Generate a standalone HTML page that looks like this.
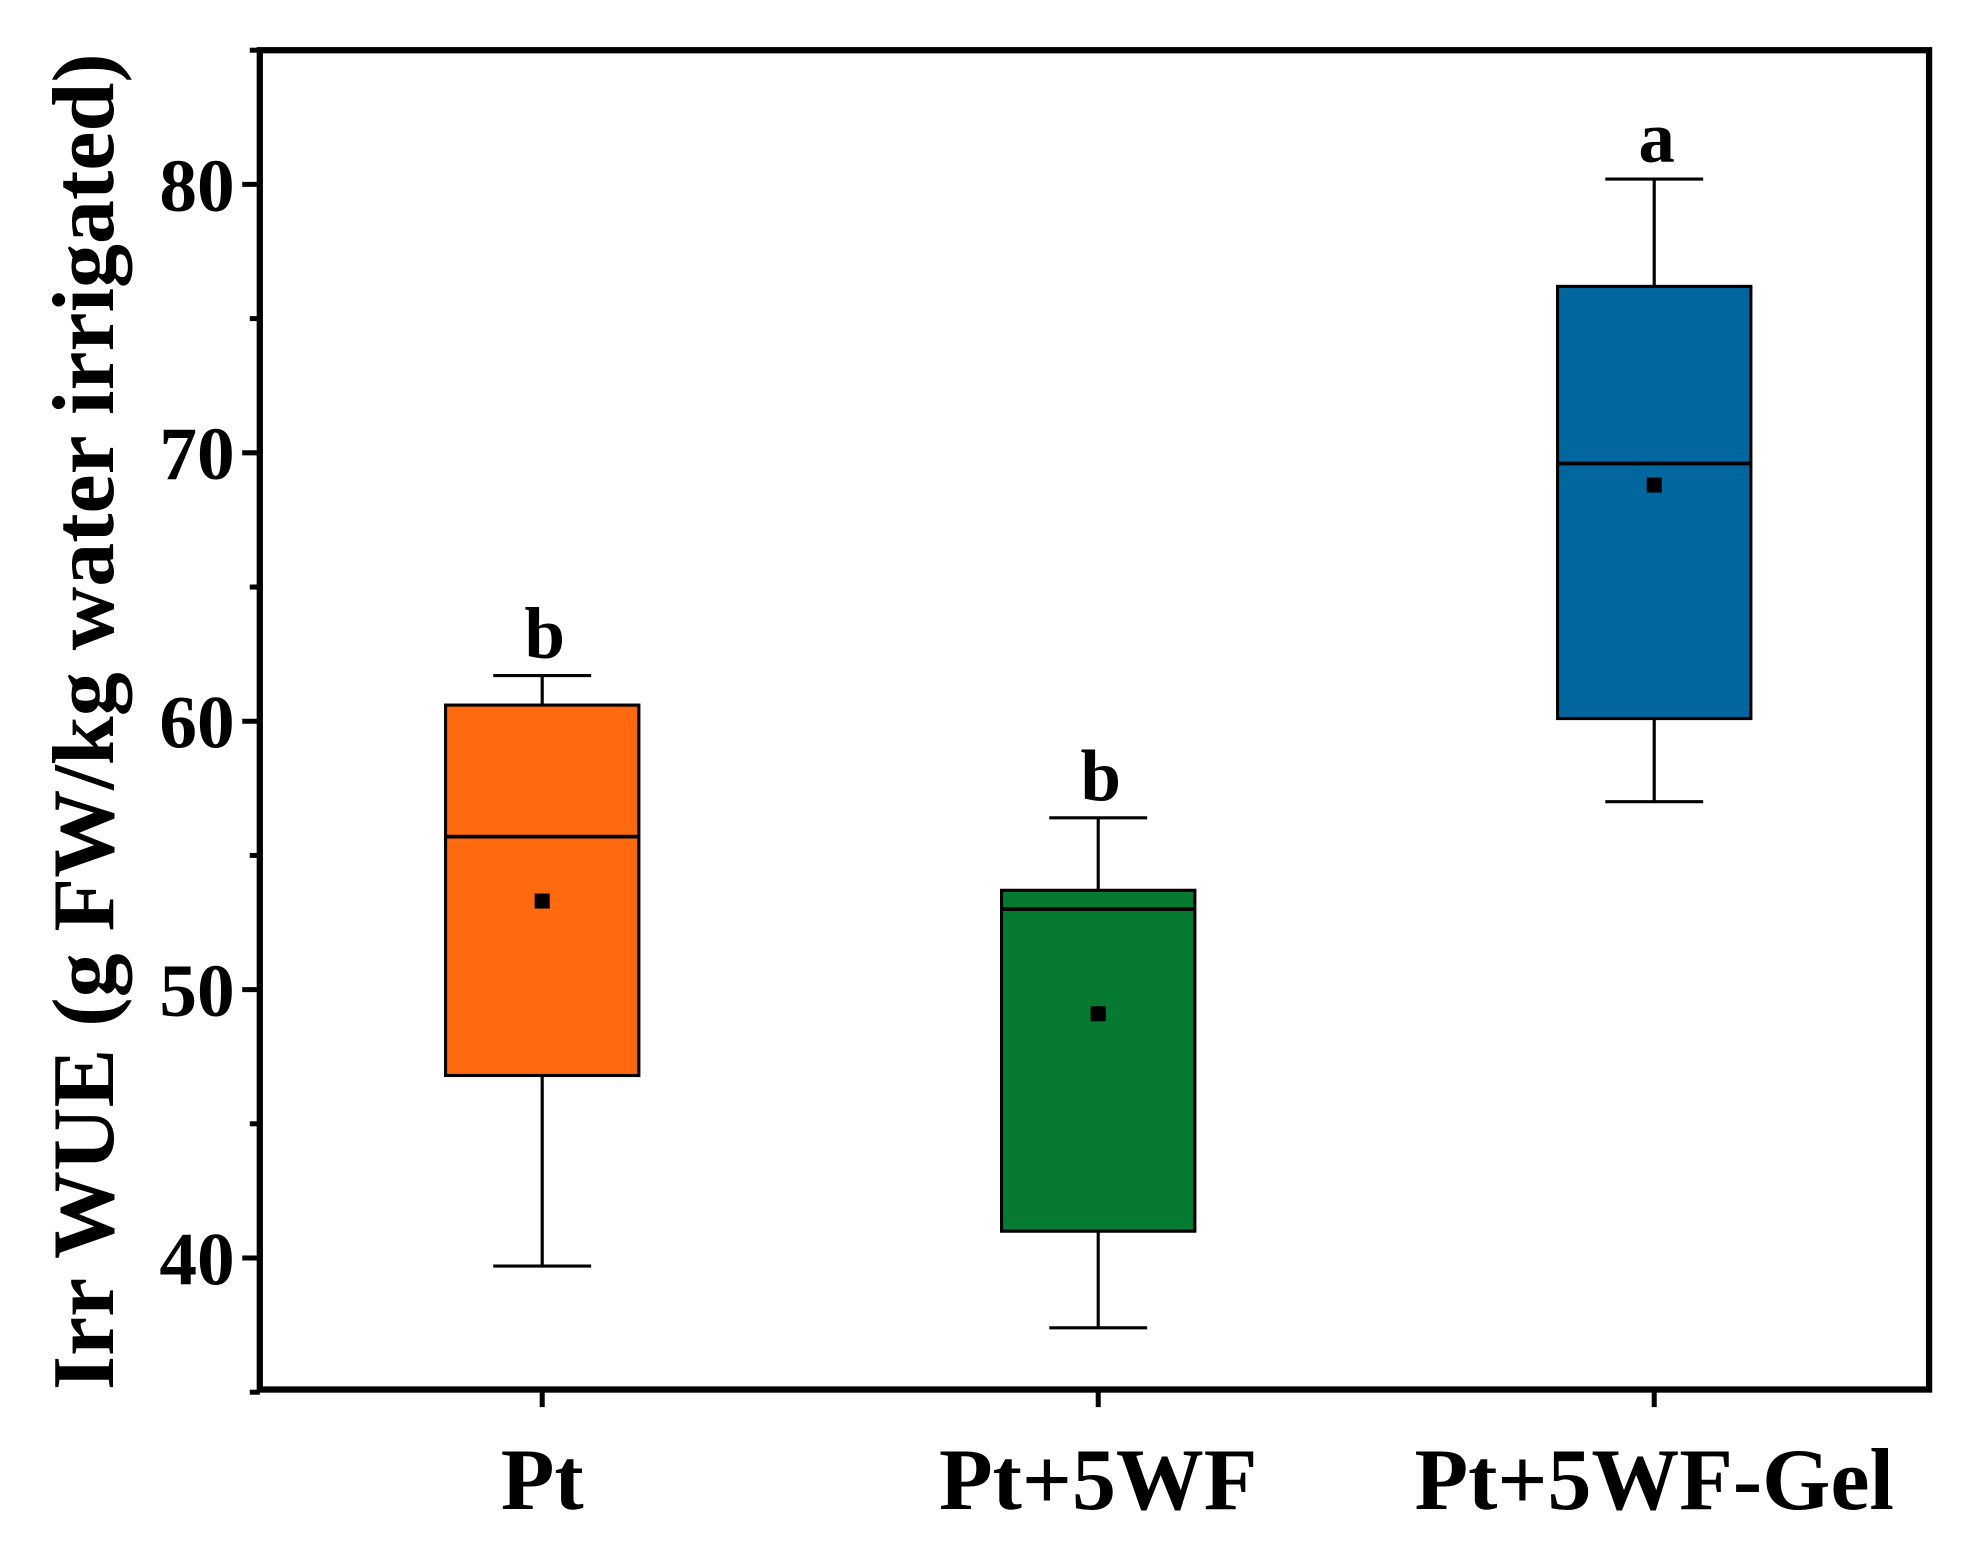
<!DOCTYPE html>
<html><head><meta charset="utf-8"><style>body{margin:0;background:#fff}svg{display:block}</style></head>
<body>
<svg id="chart" width="1968" height="1564" viewBox="0 0 1568 1246" preserveAspectRatio="none" xmlns="http://www.w3.org/2000/svg" font-family="Liberation Serif, serif" font-weight="bold"></svg>
<script>
const categories = ["Pt", "Pt+5WF", "Pt+5WF-Gel"];
const q1 = [46.8, 41.0, 60.1];
const q3 = [60.6, 53.7, 76.2];
const medians = [55.7, 53.0, 69.6];
const means = [53.3, 49.1, 68.8];
const whiskLow = [39.7, 37.4, 57.0];
const whiskHigh = [61.7, 56.4, 80.2];
const letters = ["b", "b", "a"];
const colors = ["#FF6A0E", "#057A30", "#00669E"];
const yTicks = [40, 50, 60, 70, 80];
const yMinor = [35, 45, 55, 65, 75, 85];

const svg = document.getElementById('chart');
const NS = 'http://www.w3.org/2000/svg';
const L = 207, R = 1537, T = 40, B = 1107;
const yMin = 35.1, yMax = 85;
const y = v => B - (v - yMin) / (yMax - yMin) * (B - T);
const x = i => 432 + i * 443;
function el(tag, attrs, text) {
  const e = document.createElementNS(NS, tag);
  for (const k in attrs) e.setAttribute(k, attrs[k]);
  if (text !== undefined) e.textContent = text;
  svg.appendChild(e);
  return e;
}
let e;
e = el('rect', {x: L, y: T, width: R - L, height: B - T, fill: 'none', stroke: '#000', 'stroke-width': 5});


yTicks.forEach(v => {
  e = el('line', {x1: L - 14, x2: L, y1: y(v), y2: y(v), stroke: '#000', 'stroke-width': 4});
  
  
  e = el('text', {x: L - 20, y: y(v) + 21, 'text-anchor': 'end', 'font-size': 60}, String(v));
  
  
});
yMinor.forEach(v => {
  e = el('line', {x1: L - 8, x2: L, y1: y(v), y2: y(v), stroke: '#000', 'stroke-width': 4});
  
  
});
e = el('text', {x: 0, y: 0, 'text-anchor': 'middle', 'font-size': 70, textLength: 1065, lengthAdjust: 'spacingAndGlyphs', transform: 'translate(90,575) rotate(-90)'}, 'Irr WUE (g FW/kg water irrigated)');


categories.forEach((c, i) => {
  const cx = x(i), hw = 77;
  e = el('line', {x1: cx, x2: cx, y1: B, y2: B + 14, stroke: '#000', 'stroke-width': 4});
  
  
  e = el('text', {x: cx, y: 1202, 'text-anchor': 'middle', 'font-size': 70}, c);
  
  
  e = el('line', {x1: cx, x2: cx, y1: y(whiskHigh[i]), y2: y(q3[i]), stroke: '#000', 'stroke-width': 2.5});
  
  
  e = el('line', {x1: cx, x2: cx, y1: y(q1[i]), y2: y(whiskLow[i]), stroke: '#000', 'stroke-width': 2.5});
  
  
  [whiskHigh[i], whiskLow[i]].forEach(v => {
    e = el('line', {x1: cx - 39, x2: cx + 39, y1: y(v), y2: y(v), stroke: '#000', 'stroke-width': 2.5});
    
    
  });
  e = el('rect', {x: cx - hw, y: y(q3[i]), width: hw * 2, height: y(q1[i]) - y(q3[i]), fill: colors[i], stroke: '#000', 'stroke-width': 2.5});
  
  
  e = el('line', {x1: cx - hw, x2: cx + hw, y1: y(medians[i]), y2: y(medians[i]), stroke: '#000', 'stroke-width': 3});
  
  
  e = el('rect', {x: cx - 6, y: y(means[i]) - 6, width: 12, height: 12, fill: '#000'});
  
  
  e = el('text', {x: cx + 2, y: y(whiskHigh[i]) - 14, 'text-anchor': 'middle', 'font-size': 58}, letters[i]);
  
  
});
</script>
</body></html>
